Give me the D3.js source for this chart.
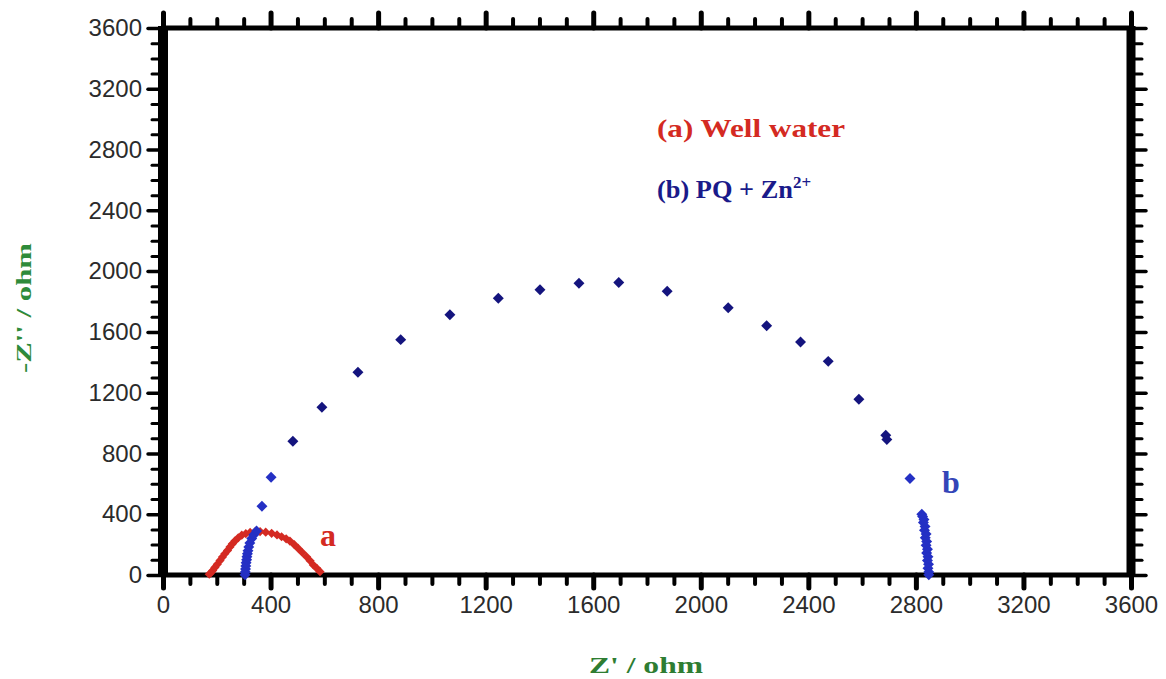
<!DOCTYPE html>
<html>
<head>
<meta charset="utf-8">
<script src="https://cdn.jsdelivr.net/npm/d3@7"></script>
<style>
  html, body { margin: 0; padding: 0; background: #fff; }
  svg { display: block; }
  .tick text { font-family: "Liberation Sans", Arial, sans-serif; fill: #2b2b2b; }
</style>
</head>
<body>
<div id="chart"></div>
<script>
// Nyquist plot: (a) well water, (b) PQ + Zn2+
const xTicks = [0, 400, 800, 1200, 1600, 2000, 2400, 2800, 3200, 3600];
const yTicks = [0, 400, 800, 1200, 1600, 2000, 2400, 2800, 3200, 3600];

// series a (red) — Z', -Z''
const wellZre = [172, 178, 185, 193, 202, 212, 221, 230, 240, 249, 258, 268, 280, 293, 308, 324,
                 342, 361, 382, 404, 424, 441, 458, 472, 488, 503, 518, 534, 547, 559, 572, 584];
const wellZim = [5, 15, 30, 50, 70, 95, 118, 140, 162, 185, 205, 225, 245, 262, 272, 280,
                 284, 286, 282, 274, 264, 252, 238, 223, 200, 175, 148, 120, 94, 66, 44, 22];

// series b (blue)
const pqZre = [305, 306, 307, 308, 309, 311, 312, 314, 316, 319, 323, 330, 338, 348,
               368, 402, 483, 591, 725, 884, 1067, 1247, 1402, 1547, 1695, 1875, 2102,
               2245, 2371, 2474, 2588, 2688, 2692, 2778,
               2822, 2825, 2830, 2828, 2834, 2832, 2838, 2835, 2840, 2838, 2843, 2840, 2845, 2843, 2847, 2845, 2848, 2848];
const pqZim = [2, 20, 40, 60, 80, 100, 120, 140, 160, 185, 210, 240, 265, 290,
               453, 644, 880, 1104, 1334, 1549, 1713, 1822, 1877, 1920, 1925, 1868, 1759,
               1641, 1533, 1406, 1156, 920, 891, 635,
               400, 385, 365, 345, 320, 295, 270, 245, 220, 195, 170, 145, 120, 95, 70, 45, 20, 2];

const W = 1166, H = 679;
const margin = { top: 28, right: 35, bottom: 104, left: 163 };

const svg = d3.select("#chart").append("svg")
  .attr("width", W).attr("height", H);

const x = d3.scaleLinear().domain([0, 3600]).range([margin.left, W - margin.right]);
const y = d3.scaleLinear().domain([0, 3600]).range([H - margin.bottom, margin.top]);

const minor = d3.range(0, 3601, 100).filter(v => v % 400 !== 0);

function styleTicks(g, w) {
  g.select(".domain").remove();
  g.selectAll(".tick line").attr("stroke", "#000").attr("stroke-width", w).attr("stroke-linecap", "round");
}

// minor ticks on all four sides
svg.append("g").attr("transform", `translate(0,${y(0)})`)
  .call(d3.axisBottom(x).tickValues(minor).tickSize(9).tickFormat(""))
  .call(g => styleTicks(g, 4));
svg.append("g").attr("transform", `translate(0,${y(3600)})`)
  .call(d3.axisTop(x).tickValues(minor).tickSize(9).tickFormat(""))
  .call(g => styleTicks(g, 4));
svg.append("g").attr("transform", `translate(${x(0)},0)`)
  .call(d3.axisLeft(y).tickValues(minor).tickSize(11).tickFormat(""))
  .call(g => styleTicks(g, 3));
svg.append("g").attr("transform", `translate(${x(3600)},0)`)
  .call(d3.axisRight(y).tickValues(minor).tickSize(11).tickFormat(""))
  .call(g => styleTicks(g, 3));

// major ticks + labels
svg.append("g").attr("transform", `translate(0,${y(0)})`)
  .call(d3.axisBottom(x).tickValues(xTicks).tickSize(13).tickPadding(8).tickFormat(d3.format("d")))
  .call(g => styleTicks(g, 5))
  .call(g => g.selectAll("text").attr("font-size", 24));
svg.append("g").attr("transform", `translate(0,${y(3600)})`)
  .call(d3.axisTop(x).tickValues(xTicks).tickSize(15).tickFormat(""))
  .call(g => styleTicks(g, 5));
svg.append("g").attr("transform", `translate(${x(0)},0)`)
  .call(d3.axisLeft(y).tickValues(yTicks).tickSize(15).tickPadding(6).tickFormat(d3.format("d")))
  .call(g => styleTicks(g, 3.5))
  .call(g => g.selectAll("text").attr("font-size", 24));
svg.append("g").attr("transform", `translate(${x(3600)},0)`)
  .call(d3.axisRight(y).tickValues(yTicks).tickSize(15).tickFormat(""))
  .call(g => styleTicks(g, 3.5));

// heavy frame
const frame = svg.append("g").attr("stroke", "#000");
frame.append("line").attr("x1", x(0)).attr("x2", x(3600)).attr("y1", y(0)).attr("y2", y(0)).attr("stroke-width", 5);
frame.append("line").attr("x1", x(0)).attr("x2", x(3600)).attr("y1", y(3600)).attr("y2", y(3600)).attr("stroke-width", 5);
frame.append("line").attr("x1", x(0)).attr("x2", x(0)).attr("y1", y(0) + 2).attr("y2", y(3600) - 2).attr("stroke-width", 10);
frame.append("line").attr("x1", x(3600)).attr("x2", x(3600)).attr("y1", y(0) + 2).attr("y2", y(3600) - 2).attr("stroke-width", 9);

// data markers (diamonds)
const diamond = s => d3.symbol(d3.symbolSquare, s)();
const well = wellZre.map((v, i) => [v, wellZim[i]]);
const pq = pqZre.map((v, i) => [v, pqZim[i]]);

svg.append("g").selectAll("path").data(well).join("path")
  .attr("d", diamond(42))
  .attr("transform", d => `translate(${x(d[0])},${y(d[1])}) rotate(45)`)
  .attr("fill", "#d42a22");

svg.append("g").selectAll("path").data(pq).join("path")
  .attr("d", diamond(60))
  .attr("transform", d => `translate(${x(d[0])},${y(d[1])}) rotate(45)`)
  .attr("fill", (d, i) => d[1] < 700 ? "#2430c4" : "#14147e");

// annotations
const serif = "'Liberation Serif', 'Times New Roman', serif";
svg.append("text").attr("x", 657).attr("y", 137)
  .attr("font-family", serif).attr("font-weight", "bold").attr("font-size", 26)
  .attr("fill", "#d42a22").attr("textLength", 188).attr("lengthAdjust", "spacingAndGlyphs")
  .text("(a) Well water");

const tb = svg.append("text").attr("x", 657).attr("y", 198)
  .attr("font-family", serif).attr("font-weight", "bold").attr("font-size", 26)
  .attr("fill", "#1a1a8a");
tb.append("tspan").attr("textLength", 136).attr("lengthAdjust", "spacingAndGlyphs").text("(b) PQ + Zn");
tb.append("tspan").attr("dy", -10).attr("font-size", 17).text("2+");

svg.append("text").attr("x", 320).attr("y", 546)
  .attr("font-family", serif).attr("font-weight", "bold").attr("font-size", 32)
  .attr("fill", "#d42a22").text("a");
svg.append("text").attr("x", 942).attr("y", 493)
  .attr("font-family", serif).attr("font-weight", "bold").attr("font-size", 32)
  .attr("fill", "#3445b8").text("b");

// axis titles
svg.append("text").attr("x", 646).attr("y", 673).attr("text-anchor", "middle")
  .attr("font-family", serif).attr("font-weight", "bold").attr("font-size", 24)
  .attr("fill", "#2e7d32").attr("textLength", 114).attr("lengthAdjust", "spacingAndGlyphs")
  .text("Z' / ohm");
svg.append("text").attr("transform", "translate(31,308) rotate(-90)").attr("text-anchor", "middle")
  .attr("font-family", serif).attr("font-weight", "bold").attr("font-size", 22)
  .attr("fill", "#2e8b3a").attr("textLength", 130).attr("lengthAdjust", "spacingAndGlyphs")
  .text("-Z'' / ohm");
</script>
</body>
</html>
